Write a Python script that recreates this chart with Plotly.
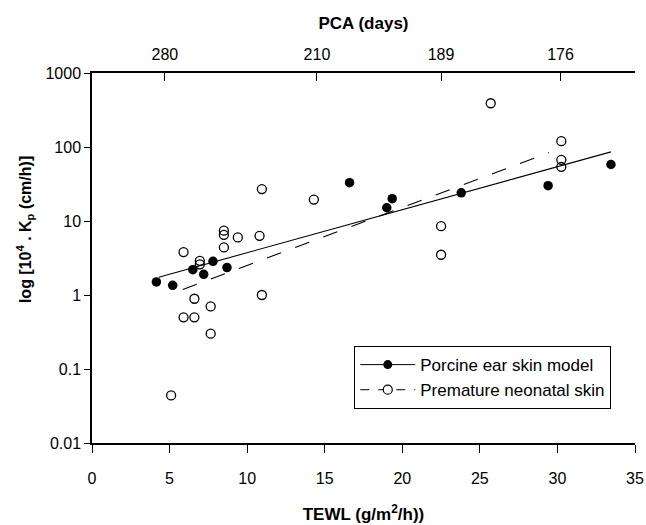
import plotly.graph_objects as go

# Data
porcine_x = [4.15, 5.2, 6.5, 7.2, 7.8, 8.7, 16.6, 19.0, 19.35, 23.8, 29.4, 33.45]
porcine_y = [1.5, 1.35, 2.2, 1.9, 2.85, 2.35, 33, 15.1, 20, 24, 30, 58]

neonatal_x = [5.1, 5.9, 5.9, 6.6, 6.6, 6.95, 6.95, 7.65, 7.65, 8.5, 8.5, 8.5,
              9.4, 10.8, 10.95, 10.95, 14.3, 22.5, 22.5, 25.7, 30.25, 30.25, 30.25]
neonatal_y = [0.044, 3.8, 0.5, 0.89, 0.5, 2.9, 2.6, 0.7, 0.3, 7.4, 6.5, 4.4,
              6.0, 6.3, 1.0, 27, 19.5, 8.5, 3.5, 390, 120, 67, 54]

porcine_fit_x = [4.3, 33.45]
porcine_fit_y = [1.74, 86]
neonatal_fit_x = [5.85, 29.45]
neonatal_fit_y = [1.19, 84]

x_ticks = [0, 5, 10, 15, 20, 25, 30, 35]
y_ticks = [0.01, 0.1, 1, 10, 100, 1000]
y_ticklabels = ["0.01", "0.1", "1", "10", "100", "1000"]
pca_pos = [4.7, 14.5, 22.5, 30.2]
pca_labels = ["280", "210", "189", "176"]

FONT = "Liberation Sans, Arial, Helvetica, sans-serif"

fig = go.Figure()
fig.add_trace(go.Scatter(x=porcine_fit_x, y=porcine_fit_y, mode="lines",
                         line=dict(color="black", width=1.1), showlegend=False))
fig.add_trace(go.Scatter(x=neonatal_fit_x, y=neonatal_fit_y, mode="lines",
                         line=dict(color="black", width=1.1, dash="longdash"), showlegend=False))
fig.add_trace(go.Scatter(x=neonatal_x, y=neonatal_y, mode="markers",
                         marker=dict(symbol="circle-open", size=9, color="black",
                                     line=dict(width=1.3, color="black")),
                         showlegend=False))
fig.add_trace(go.Scatter(x=porcine_x, y=porcine_y, mode="markers",
                         marker=dict(symbol="circle", size=9.5, color="black"),
                         showlegend=False))
# legend entries
fig.add_trace(go.Scatter(x=[None], y=[None], mode="lines+markers",
                         name="Porcine ear skin model",
                         line=dict(color="black", width=1),
                         marker=dict(symbol="circle", size=9, color="black")))
fig.add_trace(go.Scatter(x=[None], y=[None], mode="lines+markers",
                         name="Premature neonatal skin",
                         line=dict(color="black", width=1, dash="dash"),
                         marker=dict(symbol="circle", size=9, color="white",
                                     line=dict(width=1.2, color="black"))))
# invisible trace to activate top axis
fig.add_trace(go.Scatter(x=[None], y=[None], xaxis="x2", showlegend=False, hoverinfo="skip"))

fig.update_layout(
    width=646, height=525,
    margin=dict(l=92, r=11, t=73, b=82),
    paper_bgcolor="white", plot_bgcolor="white",
    font=dict(family=FONT, size=16, color="black"),
    xaxis=dict(range=[0, 35], tickvals=x_ticks, ticks="outside", ticklen=8,
               tickcolor="black", showline=True, linecolor="black", linewidth=1.5,
               showgrid=False, zeroline=False, automargin=False,
               tickfont=dict(size=16), ticklabelstandoff=12,
               title=dict(text="<b>TEWL (g/m<sup>2</sup>/h))</b>", standoff=22,
                          font=dict(size=17))),
    xaxis2=dict(range=[0, 35], overlaying="x", side="top", anchor="y",
                tickvals=pca_pos, ticktext=pca_labels, ticks="inside", ticklen=8,
                tickcolor="black", showline=True, linecolor="black", linewidth=1.5,
                showgrid=False, zeroline=False, automargin=False,
                tickfont=dict(size=16), ticklabelstandoff=5,
                title=dict(text="<b>PCA (days)</b>", standoff=12, font=dict(size=17))),
    yaxis=dict(type="log", range=[-2, 3], tickvals=y_ticks, ticktext=y_ticklabels,
               ticks="outside", ticklen=6, tickcolor="black", showline=True,
               linecolor="black", linewidth=1.5, showgrid=False, zeroline=False,
               automargin=False, tickfont=dict(size=16)),
    legend=dict(x=0.483, y=0.262, xanchor="left", yanchor="top",
                bordercolor="black", borderwidth=1, bgcolor="white",
                font=dict(size=17), itemwidth=55, tracegroupgap=0),
    annotations=[dict(text="<b>log [10<sup>4</sup> . K<sub>p</sub> (cm/h)]</b>",
                      xref="paper", yref="paper", x=-0.123, y=0.576,
                      xanchor="center", yanchor="middle", textangle=-90,
                      showarrow=False, font=dict(size=16))],
)

fig.write_html("out.html", config={"displayModeBar": False},
               post_script="document.body.style.margin='0';document.body.style.overflow='hidden';")
